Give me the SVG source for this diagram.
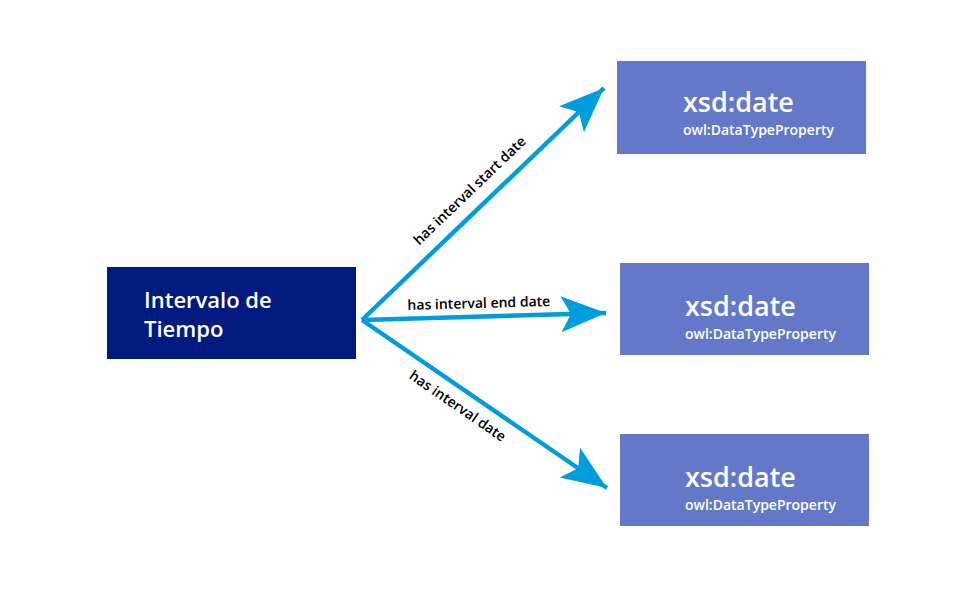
<svg xmlns="http://www.w3.org/2000/svg" width="972" height="603" viewBox="0 0 972 603">
<style>
.src{fill:#001a80}
.dt{fill:#6378c9}
.t{font-family:"Open Sans","Noto Sans",sans-serif;font-weight:600;fill:#fff}
.big{font-size:27px}
.small{font-size:14px}
.name{font-size:22px}
.lbl{font-family:"Open Sans","Noto Sans",sans-serif;font-weight:600;font-size:14px;fill:#000}
.edge{stroke:#009ddc;stroke-width:4.5;fill:none}
</style>
<defs>
<marker id="ah" markerUnits="userSpaceOnUse" markerWidth="50" markerHeight="40" viewBox="0 -20 50 40" refX="45" refY="0" orient="auto">
<path d="M0,-18 L45,0 L0,18 L10,0 Z" fill="#009ddc"/>
</marker>
</defs>
<rect width="972" height="603" fill="#fff"/>
<g id="connectors">
<path class="edge" d="M362,320 L604,88" marker-end="url(#ah)"/>
<path class="edge" d="M362,320 L606,313" marker-end="url(#ah)"/>
<path class="edge" d="M362,320 L607,488" marker-end="url(#ah)"/>
<text class="lbl" text-anchor="middle" transform="translate(473,194) rotate(-43.8)">has interval start date</text>
<text class="lbl" text-anchor="middle" transform="translate(479,308) rotate(-1.6)">has interval end date</text>
<text class="lbl" text-anchor="middle" transform="translate(455,410) rotate(34.5)">has interval date</text>
</g>
<g id="intervalo">
<rect class="src" x="107" y="267" width="249" height="92"/>
<text class="t name" x="144" y="308">Intervalo de</text>
<text class="t name" x="144" y="337">Tiempo</text>
</g>
<g id="date1">
<rect class="dt" x="617" y="61" width="249" height="93"/>
<text class="t big" x="683" y="112">xsd:date</text>
<text class="t small" x="683" y="135">owl:DataTypeProperty</text>
</g>
<g id="date2">
<rect class="dt" x="620" y="263" width="249" height="92"/>
<text class="t big" x="685" y="316">xsd:date</text>
<text class="t small" x="685" y="339">owl:DataTypeProperty</text>
</g>
<g id="date3">
<rect class="dt" x="620" y="434" width="249" height="92"/>
<text class="t big" x="685" y="487">xsd:date</text>
<text class="t small" x="685" y="510">owl:DataTypeProperty</text>
</g>
</svg>
